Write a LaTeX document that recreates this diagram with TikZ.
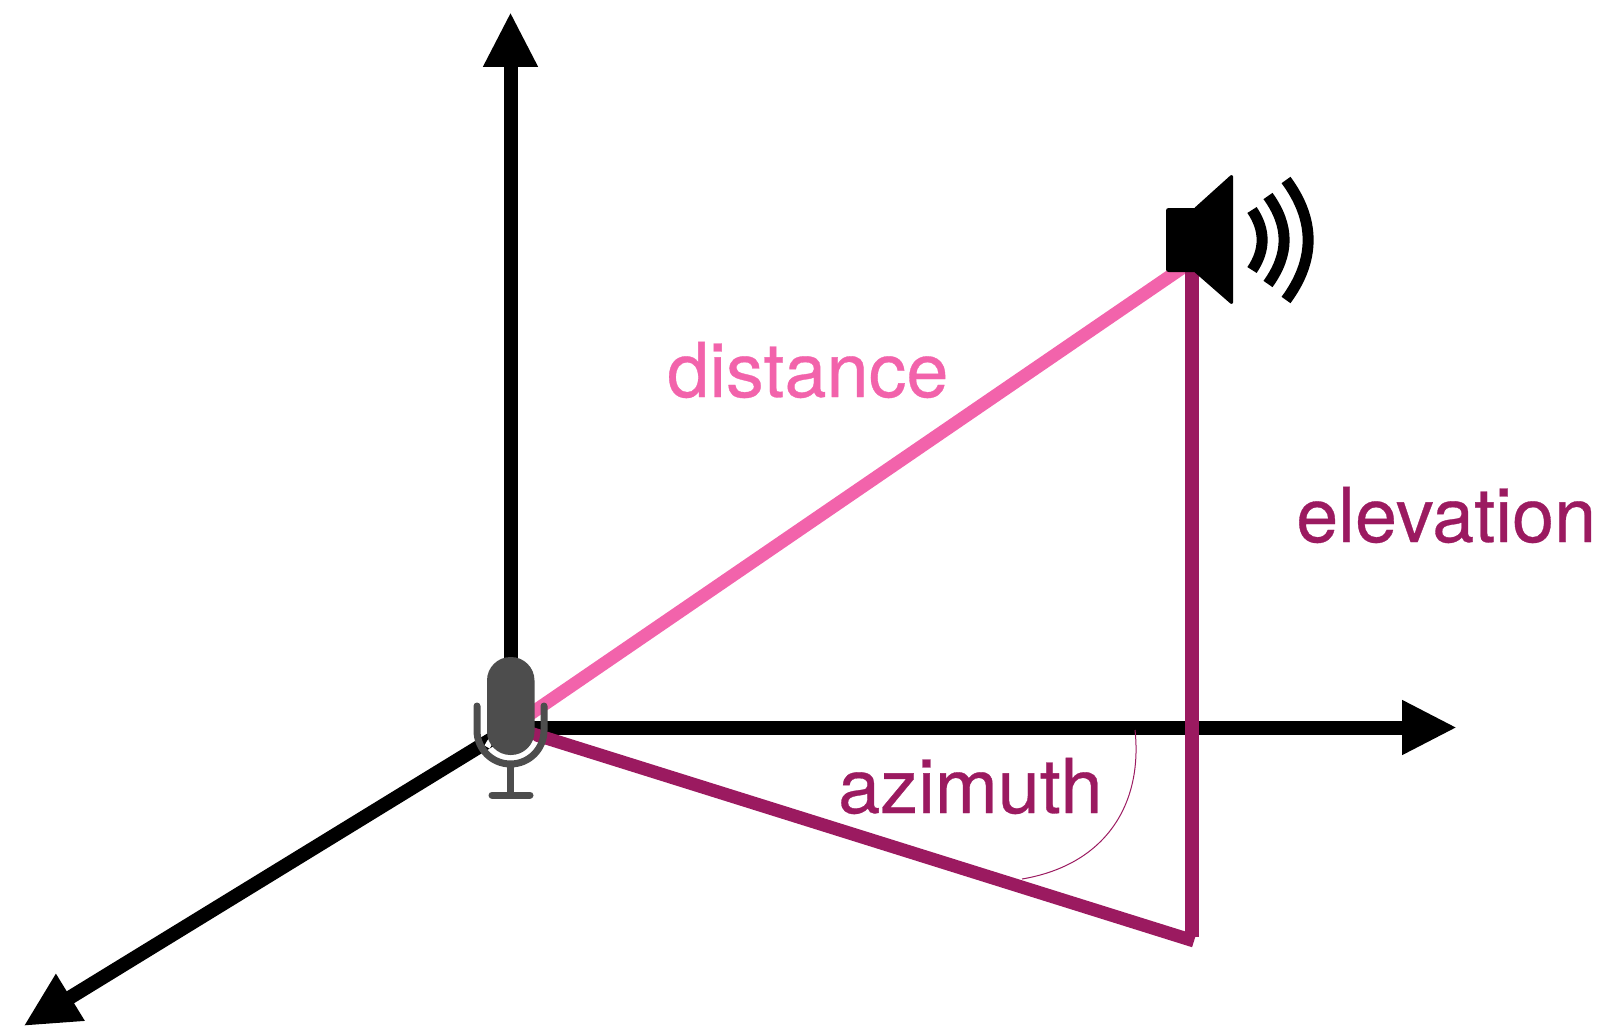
\documentclass[tikz,border=0pt]{standalone}
\usepackage{fontspec}
\setmainfont[FakeBold=0.4,BoldFont={TeX Gyre Heros}]{TeX Gyre Heros}
\newfontfamily\labelfont[AutoFakeBold=0.4]{TeX Gyre Heros}
\usetikzlibrary{arrows.meta}
\definecolor{pinkline}{HTML}{F263AB}
\definecolor{plum}{HTML}{9B1A60}
\definecolor{micgrey}{HTML}{4D4D4D}
\tikzset{
  axisline/.style={line width=14pt,black,-{Triangle[length=55pt,width=51pt]}},
  labeltext/.style={anchor=base west,inner sep=0pt,font=\labelfont\bfseries\fontsize{75.6}{80}\selectfont},
  wave/.style={line width=11pt,black},
  micstroke/.style={line width=7pt,micgrey,line cap=round},
}
\begin{document}
\begin{tikzpicture}[x=1pt,y=-1pt]
\useasboundingbox (0,0) rectangle (1604,1033);
% named points
\coordinate (o) at (510.5,727.5);
\coordinate (up) at (510.5,12);
\coordinate (right) at (1457,727.5);
\coordinate (front) at (23.5,1026);
\coordinate (src) at (1182,268);
\coordinate (srcdown) at (1191.7,262);
\coordinate (foot) at (1191.7,937);
\coordinate (azfoot) at (1194,941);
\coordinate (azstart) at (530,733);
\coordinate (a1) at (1135,730);
\coordinate (a2) at (1022,879);
% lines
\draw[axisline] (o) -- (up);
\draw[axisline] (o) -- (right);
\draw[axisline] (o) -- (front);
\draw[pinkline,line width=13pt] (o) -- (src);
\draw[plum,line width=13pt] (azstart) -- (azfoot);
\draw[plum,line width=14pt] (srcdown) -- (foot);
\draw[plum,line width=1pt] (a1) .. controls (1143,805) and (1105,865) .. (a2);
% speaker
\fill[black,rounded corners=2.5pt] (1166,208) rectangle (1200,272);
\filldraw[black,line width=3pt,line join=round] (1196,208.5) -- (1231.5,176.5) -- (1231.5,302.5) -- (1196,271.5) -- cycle;
\draw[wave] (1252,210) .. controls (1265.5,230) and (1265.5,250) .. (1252,270);
\draw[wave] (1268,196) .. controls (1289.5,226) and (1289.5,254) .. (1268,284);
\draw[wave] (1286,180) .. controls (1315.5,220) and (1315.5,260) .. (1286,300);
% microphone
\draw[white,line width=6pt] (487,747) arc[start angle=205,end angle=335,radius=26];
\fill[micgrey,rounded corners=23.5pt] (487,657) rectangle (534.5,755);
\draw[micstroke] (477,706) -- (477,730.5) arc[start angle=180,end angle=0,radius=33.5] -- (544,706);
\coordinate (stemtop) at (510.5,764);
\coordinate (stembase) at (510.5,795);
\coordinate (baseL) at (492,795);
\coordinate (baseR) at (530,795);
\draw[micgrey,line width=7pt] (stemtop) -- (stembase);
\draw[micstroke] (baseL) -- (baseR);
% labels
\node[labeltext,text=pinkline] (dist) at (667,397) {distance};
\node[labeltext,text=plum] (elev) at (1296,542) {elevation};
\node[labeltext,text=plum] (azim) at (838,813) {azimuth};
\end{tikzpicture}
\end{document}
